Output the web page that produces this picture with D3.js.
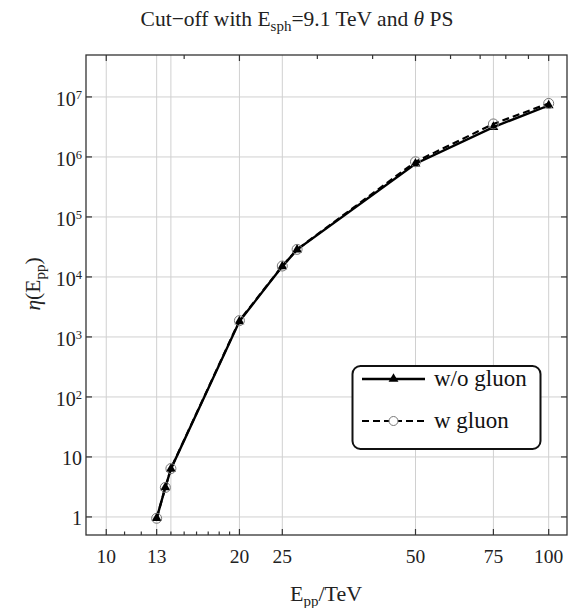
<!DOCTYPE html>
<html><head><meta charset="utf-8">
<script src="https://cdn.jsdelivr.net/npm/d3@7"></script>
<style>body{margin:0;background:#fff;}</style>
</head><body>
<script>
const energies = [13, 13.6, 14, 20, 25, 27, 50, 75, 100];
const etaNoGluon = [0.95, 3.1, 6.3, 1820, 15000, 28500, 770000, 3150000, 7200000];
const etaGluon   = [0.95, 3.1, 6.4, 1870, 15200, 28800, 830000, 3550000, 7800000];
const xTickValues = [10, 13, 20, 25, 50, 75, 100];
const xMinorBottom = [11, 12, 14, 15, 16, 17, 18, 19];
const xTopTicks = [10, 15, 20, 30, 40, 50, 60, 70, 80, 90, 100];
const xGridValues = [10, 13, 14, 20, 25, 50, 75, 100];
const yTickExps = [0, 1, 2, 3, 4, 5, 6, 7];
const seriesNames = ["w/o gluon", "w gluon"];

const FONT = '"Liberation Serif"';
const W = 574, H = 608;
const m = {l: 86, r: 7, t: 55, b: 73};
const svg = d3.select("body").append("svg").attr("width", W).attr("height", H)
  .style("font-family", FONT);
const x = d3.scaleLog().domain([9, 110]).range([m.l, W - m.r]);
const y = d3.scaleLog().domain([0.5, 5e7]).range([H - m.b, m.t]);
const x0 = m.l, x1 = W - m.r, y0 = H - m.b, y1 = m.t;

// grid
const g = svg.append("g");
g.selectAll(".vg").data(xGridValues).join("line")
  .attr("x1", d => x(d)).attr("x2", d => x(d)).attr("y1", y1).attr("y2", y0)
  .attr("stroke", "#d0d0d0").attr("stroke-width", 1);
g.selectAll(".hg").data(yTickExps).join("line")
  .attr("x1", x0).attr("x2", x1).attr("y1", d => y(Math.pow(10, d))).attr("y2", d => y(Math.pow(10, d)))
  .attr("stroke", "#d0d0d0").attr("stroke-width", 1);

// ticks
const t = svg.append("g").attr("stroke", "#333").attr("stroke-width", 1.2);
t.selectAll(".bt").data(xTickValues).join("line")
  .attr("x1", d => x(d)).attr("x2", d => x(d)).attr("y1", y0).attr("y2", y0 - 6);
t.selectAll(".bm").data(xMinorBottom).join("line")
  .attr("x1", d => x(d)).attr("x2", d => x(d)).attr("y1", y0).attr("y2", y0 - 3.5);
t.selectAll(".tt").data(xTopTicks).join("line")
  .attr("x1", d => x(d)).attr("x2", d => x(d)).attr("y1", y1).attr("y2", d => y1 + ([10,20,50,100].includes(d) ? 6 : 4));
t.selectAll(".lt").data(yTickExps).join("line")
  .attr("x1", x0).attr("x2", x0 + 6).attr("y1", d => y(Math.pow(10, d))).attr("y2", d => y(Math.pow(10, d)));
t.selectAll(".rt").data(yTickExps).join("line")
  .attr("x1", x1).attr("x2", x1 - 6).attr("y1", d => y(Math.pow(10, d))).attr("y2", d => y(Math.pow(10, d)));

// frame
svg.append("rect").attr("x", x0).attr("y", y1).attr("width", x1 - x0).attr("height", y0 - y1)
  .attr("fill", "none").attr("stroke", "#333").attr("stroke-width", 1.3);

// tick labels
svg.append("g").selectAll("text").data(xTickValues).join("text")
  .attr("x", d => x(d)).attr("y", 563).attr("text-anchor", "middle").style("font-family", FONT)
  .attr("font-size", 19.5).attr("fill", "#222").text(d => d);
const yl = svg.append("g").selectAll("text").data(yTickExps).join("text")
  .attr("x", 82).attr("y", d => y(Math.pow(10, d)) + (d > 1 ? 9.5 : 7.7)).attr("text-anchor", "end").style("font-family", FONT)
  .attr("font-size", 20).attr("fill", "#222");
yl.each(function(d) {
  const s = d3.select(this);
  if (d === 0) s.text("1");
  else if (d === 1) s.text("10");
  else {
    s.append("tspan").text("10");
    s.append("tspan").attr("dy", -7).attr("font-size", 12.5).text(d);
  }
});

// title
const title = svg.append("text").attr("x", 297).attr("y", 26).attr("text-anchor", "middle")
  .style("font-family", FONT).attr("font-size", 21.5).attr("fill", "#222");
title.append("tspan").text("Cut\u2212off with E");
title.append("tspan").attr("font-size", 15).attr("dy", 5).text("sph");
title.append("tspan").attr("dy", -5).text("=9.1 TeV and ");
title.append("tspan").attr("font-style", "italic").text("\u03b8");
title.append("tspan").text(" PS");

// x title
const xt = svg.append("text").attr("x", 326).attr("y", 601).attr("text-anchor", "middle")
  .style("font-family", FONT).attr("font-size", 22).attr("fill", "#222");
xt.append("tspan").text("E");
xt.append("tspan").attr("font-size", 15).attr("dy", 5).text("pp");
xt.append("tspan").attr("dy", -5).text("/TeV");

// y title
const ytl = svg.append("text").attr("transform", "translate(40,284) rotate(-90)").attr("text-anchor", "middle")
  .style("font-family", FONT).attr("font-size", 21.5).attr("fill", "#222");
ytl.append("tspan").attr("font-style", "italic").text("\u03b7");
ytl.append("tspan").text("(E");
ytl.append("tspan").attr("font-size", 15).attr("dy", 5).text("pp");
ytl.append("tspan").attr("dy", -5).text(")");

// data
const line = d3.line().x(d => x(d[0])).y(d => y(d[1]));
const dG = energies.map((e, i) => [e, etaGluon[i]]);
const dN = energies.map((e, i) => [e, etaNoGluon[i]]);
svg.append("path").datum(dG).attr("d", line).attr("fill", "none").attr("stroke", "#000")
  .attr("stroke-width", 2.2).attr("stroke-dasharray", "7,4");
svg.append("path").datum(dN).attr("d", line).attr("fill", "none").attr("stroke", "#000")
  .attr("stroke-width", 2.4);
const tri = d3.symbol().type(d3.symbolTriangle).size(42);
svg.append("g").selectAll("path").data(dN).join("path")
  .attr("transform", d => `translate(${x(d[0])},${y(d[1])})`).attr("d", tri()).attr("fill", "#000");
svg.append("g").selectAll("circle").data(dG).join("circle")
  .attr("cx", d => x(d[0])).attr("cy", d => y(d[1])).attr("r", 5)
  .attr("fill", "none").attr("stroke", "#777").attr("stroke-width", 1);

// legend
const lg = svg.append("g");
lg.append("rect").attr("x", 352.5).attr("y", 366).attr("width", 188).attr("height", 83).attr("rx", 8)
  .attr("fill", "#fff").attr("stroke", "#111").attr("stroke-width", 2);
lg.append("line").attr("x1", 362).attr("x2", 425).attr("y1", 379).attr("y2", 379)
  .attr("stroke", "#000").attr("stroke-width", 2.4);
lg.append("path").attr("transform", "translate(393.5,379)").attr("d", tri()).attr("fill", "#000");
lg.append("line").attr("x1", 362).attr("x2", 425).attr("y1", 421).attr("y2", 421)
  .attr("stroke", "#000").attr("stroke-width", 2.2).attr("stroke-dasharray", "7,4");
lg.append("circle").attr("cx", 393.5).attr("cy", 421).attr("r", 4.5).attr("fill", "#fff")
  .attr("stroke", "#777").attr("stroke-width", 1);
lg.selectAll("text").data(seriesNames).join("text")
  .attr("x", 434).attr("y", (d, i) => 386 + i * 41.5).style("font-family", FONT)
  .attr("font-size", 23).attr("fill", "#111").text(d => d);
</script>
</body></html>
